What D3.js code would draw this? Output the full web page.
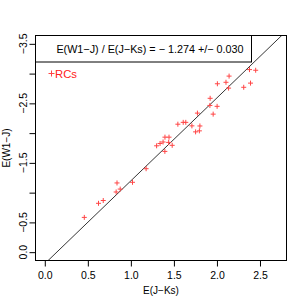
<!DOCTYPE html>
<html>
<head>
<meta charset="utf-8">
<script src="https://cdn.jsdelivr.net/npm/d3@7"></script>
<style>
body{margin:0;background:#fff;}
text{font-family:"Liberation Sans",Arial,Helvetica,sans-serif;}
</style>
</head>
<body>
<div id="chart"></div>
<script>
// Data
const ejks = [2.378,2.450,2.141,2.105,2.005,2.390,2.311,2.135,1.921,1.918,2.002,1.956,1.773,1.608,1.638,1.546,1.709,1.802,1.796,1.752,1.396,1.443,1.299,1.339,1.374,1.439,1.480,1.395,1.177,0.839,1.019,0.829,0.876,0.624,0.679,0.459];
const ew1j = [-3.067,-3.056,-2.958,-2.854,-2.829,-2.840,-2.770,-2.756,-2.585,-2.465,-2.450,-2.319,-2.336,-2.181,-2.181,-2.150,-2.122,-2.120,-2.038,-2.021,-1.932,-1.932,-1.787,-1.826,-1.851,-1.844,-1.795,-1.693,-1.402,-1.163,-1.174,-1.011,-1.060,-0.821,-0.868,-0.584];
const xTicks = [0, 0.5, 1, 1.5, 2, 2.5];
const xTickLabels = ["0.0","0.5","1.0","1.5","2.0","2.5"];
const yTicks = [-3.5, -3, -2.5, -2, -1.5, -1, -0.5, 0];
const yTickLabels = ["−3.5","","−2.5","","−1.5","","−0.5","0.0"];
const lineIntercept = 0.194;
const lineSlope = -1.393;
const titleText = "E(W1−J) / E(J−Ks) = − 1.274 +/− 0.030";
const legendLabel = "RCs";
const xLabel = "E(J−Ks)";
const yLabel = "E(W1−J)";

const W = 305, H = 305;
const L = 35.5, R = 286.5, T = 35.5, B = 260.5;
const svg = d3.select("#chart").append("svg").attr("width", W).attr("height", H);

const x = d3.scaleLinear().domain([-0.108, 2.808]).range([L, R]);
const y = d3.scaleLinear().domain([0.14, -3.64]).range([B, T]);

svg.append("clipPath").attr("id","clip").append("rect")
  .attr("x", L).attr("y", T).attr("width", R-L).attr("height", B-T);

// regression line
const lx0 = -0.108, lx1 = 2.808;
svg.append("line").attr("clip-path","url(#clip)")
  .attr("x1", x(lx0)).attr("y1", y(lineIntercept + lineSlope*lx0))
  .attr("x2", x(lx1)).attr("y2", y(lineIntercept + lineSlope*lx1))
  .attr("stroke", "#000").attr("stroke-width", 0.8);

// points
const pts = svg.append("g");
ejks.forEach((v, i) => {
  const px = x(v), py = y(ew1j[i]);
  pts.append("path")
    .attr("d", `M${px-2.5},${py}H${px+2.5}M${px},${py-2.5}V${py+2.5}`)
    .attr("stroke", "#ff4545").attr("stroke-width", 1).attr("fill","none");
});

// x axis
const xAxis = svg.append("g").attr("transform", `translate(0,${B})`)
  .call(d3.axisBottom(x).tickValues(xTicks).tickSize(6).tickFormat((d,i)=>xTickLabels[i]));
xAxis.select(".domain").remove();
xAxis.selectAll("text").attr("font-size", 10.5).attr("fill","#000").attr("dy", "0.95em").attr("font-family", "'Liberation Sans',Arial,sans-serif");
xAxis.selectAll("line").attr("stroke","#000");

// y axis
const yAxis = svg.append("g").attr("transform", `translate(${L},0)`)
  .call(d3.axisLeft(y).tickValues(yTicks).tickSize(6).tickFormat((d,i)=>yTickLabels[i]));
yAxis.select(".domain").remove();
yAxis.selectAll("line").attr("stroke","#000");
yAxis.selectAll("text").remove();
yTicks.forEach((t, i) => {
  if (!yTickLabels[i]) return;
  svg.append("text")
    .attr("transform", `translate(27,${y(t)}) rotate(-90)`)
    .attr("text-anchor","middle").attr("font-size", 10.5).attr("fill","#000")
    .text(yTickLabels[i]);
});

// frame
svg.append("rect").attr("x", L).attr("y", T).attr("width", R-L).attr("height", B-T)
  .attr("fill","none").attr("stroke","#000").attr("stroke-width", 1);

// title box
svg.append("rect").attr("x", L).attr("y", T).attr("width", 216).attr("height", 26.5)
  .attr("fill","#fff").attr("stroke","#000").attr("stroke-width", 1);
svg.append("text").attr("x", 150).attr("y", 53).attr("text-anchor","middle")
  .attr("font-size", 10.8).attr("fill","#000").text(titleText);

// legend
svg.append("path").attr("d", "M48.5,73.5H54.5M51.5,70.5V76.5")
  .attr("stroke", "#ff4545").attr("stroke-width", 1);
svg.append("text").attr("x", 55).attr("y", 77.5).attr("font-size", 11.3).attr("fill","#ff2020").text(legendLabel);

// axis titles
svg.append("text").attr("x", (L+R)/2).attr("y", 294).attr("text-anchor","middle")
  .attr("font-size", 10).attr("fill","#000").text(xLabel);
svg.append("text").attr("transform", `translate(10,${(T+B)/2}) rotate(-90)`)
  .attr("text-anchor","middle").attr("font-size", 10).attr("fill","#000").text(yLabel);
</script>
</body>
</html>
